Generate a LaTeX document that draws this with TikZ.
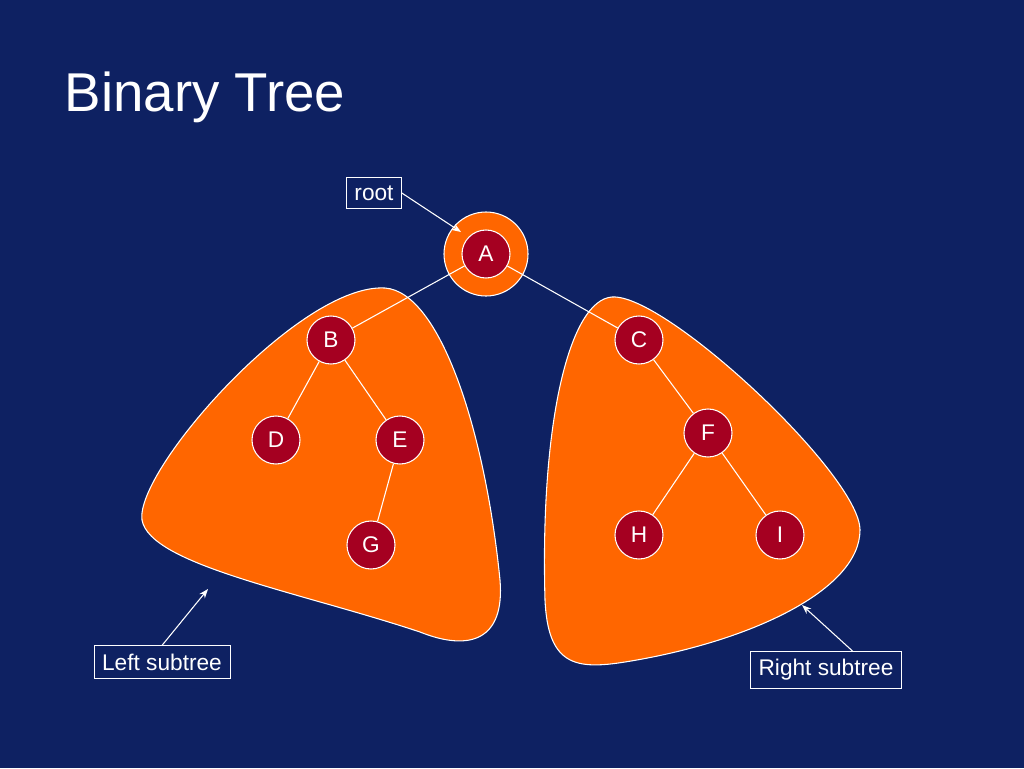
\documentclass[tikz,border=0pt]{standalone}
\usepackage{fontspec}
\setmainfont{Liberation Sans}
\usetikzlibrary{arrows.meta}
\definecolor{navy}{RGB}{14,33,98}
\definecolor{blob}{RGB}{255,102,0}
\definecolor{knot}{RGB}{165,0,33}
\tikzset{
  treenode/.style={circle,fill=knot,draw=white,line width=0.8pt,minimum size=36pt,inner sep=0pt,text=white,font=\fontsize{17}{17}\selectfont},
  labelbox/.style={draw=white,fill=navy,text=white,inner sep=6pt,font=\fontsize{17}{17}\selectfont},
  edge/.style={white,line width=0.8pt},
  pointer/.style={white,line width=0.8pt,-{Stealth[length=7pt]}}
}
\begin{document}
\begin{tikzpicture}[x=0.75pt,y=0.75pt,yscale=-1,xscale=1]
	\fill[navy] (0,0) rectangle (1024,768);
	\useasboundingbox (0,0) rectangle (1024,768);

	% title
	\node[anchor=west,text=white,font=\fontsize{41}{41}\selectfont] (title) at (60,97) {Binary Tree};

	% subtree shapes
	\draw[white,fill=blob,line width=0.8pt] (385,288) .. controls (440,292) and (485,430) .. (500,580) .. controls (505,640) and (470,652) .. (420,632) .. controls (300,592) and (150,565) .. (142,520) .. controls (135,470) and (300,283) .. (385,288) -- cycle;
	\draw[white,fill=blob,line width=0.8pt] (612,297) .. controls (570,300) and (540,420) .. (545,600) .. controls (548,665) and (575,670) .. (625,662) .. controls (750,642) and (860,590) .. (860,530) .. controls (860,475) and (665,293) .. (612,297) -- cycle;
	\draw[white,fill=blob,line width=0.8pt] (486,254) circle (42);

	% nodes
	\node[treenode] (A) at (486,254) {A};
	\node[treenode] (B) at (331,340) {B};
	\node[treenode] (C) at (639,340) {C};
	\node[treenode] (D) at (276,440) {D};
	\node[treenode] (E) at (400,440) {E};
	\node[treenode] (F) at (708,433) {F};
	\node[treenode] (G) at (371,545) {G};
	\node[treenode] (H) at (639,535) {H};
	\node[treenode] (I) at (780,535) {I};

	% edges
	\draw[edge] (A) -- (B);
	\draw[edge] (A) -- (C);
	\draw[edge] (B) -- (D);
	\draw[edge] (B) -- (E);
	\draw[edge] (E) -- (G);
	\draw[edge] (C) -- (F);
	\draw[edge] (F) -- (H);
	\draw[edge] (F) -- (I);

	% labels
	\node[labelbox] (root) at (374,193) {root};
	\node[labelbox] (left) at (162,662) {Left subtree};
	\node[labelbox] (right) at (826,670) {Right subtree};
	\coordinate (rootend) at (461,232);
	\coordinate (leftend) at (208,589);
	\coordinate (rightend) at (802,605);
	\draw[pointer] (root.east) -- (rootend);
	\draw[pointer] (left.north) -- (leftend);
	\draw[pointer] ([xshift=20pt]right.north) -- (rightend);
\end{tikzpicture}
\end{document}
